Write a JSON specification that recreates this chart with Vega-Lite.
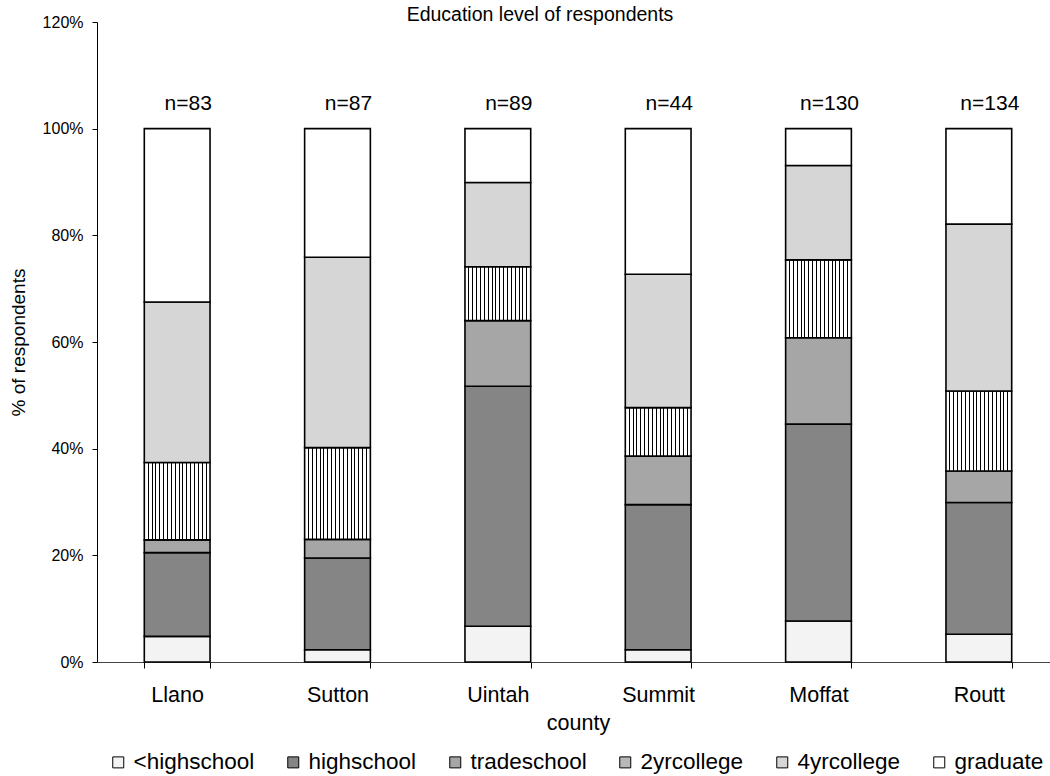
{
  "$schema": "https://vega.github.io/schema/vega-lite/v6.json",
  "width": 962,
  "height": 640,
  "autosize": "none",
  "padding": {"left": 97, "top": 22, "right": 0, "bottom": 114},
  "background": "white",
  "config": {
    "font": "Liberation Sans",
    "view": {"stroke": null},
    "axis": {"domainColor": "#000", "tickColor": "#000", "labelColor": "#000", "titleColor": "#000", "grid": false, "titleFontWeight": "normal"}
  },
  "title": {"text": "Education level of respondents", "fontSize": 19.5, "fontWeight": "normal", "font": "Liberation Sans", "anchor": "middle", "dx": -38, "dy": 21, "offset": 1, "baseline": "middle", "color": "#000"},
  "datasets": {
    "edu": [
      {"county": "Llano", "level": "<highschool", "k": 1, "pct": 0.048},
      {"county": "Llano", "level": "highschool", "k": 2, "pct": 0.157},
      {"county": "Llano", "level": "tradeschool", "k": 3, "pct": 0.024},
      {"county": "Llano", "level": "2yrcollege", "k": 4, "pct": 0.145},
      {"county": "Llano", "level": "4yrcollege", "k": 5, "pct": 0.301},
      {"county": "Llano", "level": "graduate", "k": 6, "pct": 0.325},
      {"county": "Sutton", "level": "<highschool", "k": 1, "pct": 0.023},
      {"county": "Sutton", "level": "highschool", "k": 2, "pct": 0.172},
      {"county": "Sutton", "level": "tradeschool", "k": 3, "pct": 0.035},
      {"county": "Sutton", "level": "2yrcollege", "k": 4, "pct": 0.172},
      {"county": "Sutton", "level": "4yrcollege", "k": 5, "pct": 0.357},
      {"county": "Sutton", "level": "graduate", "k": 6, "pct": 0.241},
      {"county": "Uintah", "level": "<highschool", "k": 1, "pct": 0.067},
      {"county": "Uintah", "level": "highschool", "k": 2, "pct": 0.450},
      {"county": "Uintah", "level": "tradeschool", "k": 3, "pct": 0.123},
      {"county": "Uintah", "level": "2yrcollege", "k": 4, "pct": 0.101},
      {"county": "Uintah", "level": "4yrcollege", "k": 5, "pct": 0.158},
      {"county": "Uintah", "level": "graduate", "k": 6, "pct": 0.101},
      {"county": "Summit", "level": "<highschool", "k": 1, "pct": 0.023},
      {"county": "Summit", "level": "highschool", "k": 2, "pct": 0.272},
      {"county": "Summit", "level": "tradeschool", "k": 3, "pct": 0.091},
      {"county": "Summit", "level": "2yrcollege", "k": 4, "pct": 0.091},
      {"county": "Summit", "level": "4yrcollege", "k": 5, "pct": 0.250},
      {"county": "Summit", "level": "graduate", "k": 6, "pct": 0.273},
      {"county": "Moffat", "level": "<highschool", "k": 1, "pct": 0.077},
      {"county": "Moffat", "level": "highschool", "k": 2, "pct": 0.369},
      {"county": "Moffat", "level": "tradeschool", "k": 3, "pct": 0.162},
      {"county": "Moffat", "level": "2yrcollege", "k": 4, "pct": 0.146},
      {"county": "Moffat", "level": "4yrcollege", "k": 5, "pct": 0.177},
      {"county": "Moffat", "level": "graduate", "k": 6, "pct": 0.069},
      {"county": "Routt", "level": "<highschool", "k": 1, "pct": 0.052},
      {"county": "Routt", "level": "highschool", "k": 2, "pct": 0.247},
      {"county": "Routt", "level": "tradeschool", "k": 3, "pct": 0.059},
      {"county": "Routt", "level": "2yrcollege", "k": 4, "pct": 0.150},
      {"county": "Routt", "level": "4yrcollege", "k": 5, "pct": 0.313},
      {"county": "Routt", "level": "graduate", "k": 6, "pct": 0.179}
    ],
    "ns": [
      {"county": "Llano", "label": "n=83"},
      {"county": "Sutton", "label": "n=87"},
      {"county": "Uintah", "label": "n=89"},
      {"county": "Summit", "label": "n=44"},
      {"county": "Moffat", "label": "n=130"},
      {"county": "Routt", "label": "n=134"}
    ]
  },
  "layer": [
    {
      "data": {"name": "edu"},
      "mark": {"type": "bar", "stroke": "#000", "strokeWidth": 1.6},
      "encoding": {
        "x": {
          "field": "county", "type": "nominal",
          "sort": ["Llano", "Sutton", "Uintah", "Summit", "Moffat", "Routt"],
          "scale": {"paddingInner": 0.59, "paddingOuter": 0.295},
          "axis": {"title": "county", "labelAngle": 0, "labelFontSize": 21.5, "titleFontSize": 21.5, "tickBand": "extent", "tickSize": 6, "labelPadding": 16, "titlePadding": 7, "domainColor": "#444", "tickColor": "#000"}
        },
        "y": {
          "field": "pct", "type": "quantitative", "stack": "zero",
          "scale": {"domain": [0, 1.2], "nice": false},
          "axis": {"title": "% of respondents", "format": ".0%", "values": [0, 0.2, 0.4, 0.6, 0.8, 1.0, 1.2], "labelFontSize": 16, "titleFontSize": 19, "tickSize": 5, "labelPadding": 9, "titlePadding": 14}
        },
        "order": {"field": "k", "type": "quantitative"},
        "color": {
          "condition": {
            "test": "datum.level === '2yrcollege'",
            "value": {
              "gradient": "linear", "x1": 0, "y1": 0, "x2": 1, "y2": 0,
              "stops": [
                {"offset": 0, "color": "#ffffff"},
                {"offset": 0.051, "color": "#ffffff"}, {"offset": 0.051, "color": "#000000"}, {"offset": 0.067, "color": "#000000"}, {"offset": 0.067, "color": "#ffffff"},
                {"offset": 0.110, "color": "#ffffff"}, {"offset": 0.110, "color": "#000000"}, {"offset": 0.126, "color": "#000000"}, {"offset": 0.126, "color": "#ffffff"},
                {"offset": 0.169, "color": "#ffffff"}, {"offset": 0.169, "color": "#000000"}, {"offset": 0.185, "color": "#000000"}, {"offset": 0.185, "color": "#ffffff"},
                {"offset": 0.227, "color": "#ffffff"}, {"offset": 0.227, "color": "#000000"}, {"offset": 0.243, "color": "#000000"}, {"offset": 0.243, "color": "#ffffff"},
                {"offset": 0.286, "color": "#ffffff"}, {"offset": 0.286, "color": "#000000"}, {"offset": 0.302, "color": "#000000"}, {"offset": 0.302, "color": "#ffffff"},
                {"offset": 0.345, "color": "#ffffff"}, {"offset": 0.345, "color": "#000000"}, {"offset": 0.361, "color": "#000000"}, {"offset": 0.361, "color": "#ffffff"},
                {"offset": 0.404, "color": "#ffffff"}, {"offset": 0.404, "color": "#000000"}, {"offset": 0.420, "color": "#000000"}, {"offset": 0.420, "color": "#ffffff"},
                {"offset": 0.463, "color": "#ffffff"}, {"offset": 0.463, "color": "#000000"}, {"offset": 0.479, "color": "#000000"}, {"offset": 0.479, "color": "#ffffff"},
                {"offset": 0.521, "color": "#ffffff"}, {"offset": 0.521, "color": "#000000"}, {"offset": 0.537, "color": "#000000"}, {"offset": 0.537, "color": "#ffffff"},
                {"offset": 0.580, "color": "#ffffff"}, {"offset": 0.580, "color": "#000000"}, {"offset": 0.596, "color": "#000000"}, {"offset": 0.596, "color": "#ffffff"},
                {"offset": 0.639, "color": "#ffffff"}, {"offset": 0.639, "color": "#000000"}, {"offset": 0.655, "color": "#000000"}, {"offset": 0.655, "color": "#ffffff"},
                {"offset": 0.698, "color": "#ffffff"}, {"offset": 0.698, "color": "#000000"}, {"offset": 0.714, "color": "#000000"}, {"offset": 0.714, "color": "#ffffff"},
                {"offset": 0.757, "color": "#ffffff"}, {"offset": 0.757, "color": "#000000"}, {"offset": 0.773, "color": "#000000"}, {"offset": 0.773, "color": "#ffffff"},
                {"offset": 0.815, "color": "#ffffff"}, {"offset": 0.815, "color": "#000000"}, {"offset": 0.831, "color": "#000000"}, {"offset": 0.831, "color": "#ffffff"},
                {"offset": 0.874, "color": "#ffffff"}, {"offset": 0.874, "color": "#000000"}, {"offset": 0.890, "color": "#000000"}, {"offset": 0.890, "color": "#ffffff"},
                {"offset": 0.933, "color": "#ffffff"}, {"offset": 0.933, "color": "#000000"}, {"offset": 0.949, "color": "#000000"}, {"offset": 0.949, "color": "#ffffff"},
                {"offset": 1, "color": "#ffffff"}
              ]
            }
          },
          "field": "level", "type": "nominal",
          "sort": ["<highschool", "highschool", "tradeschool", "2yrcollege", "4yrcollege", "graduate"],
          "scale": {
            "domain": ["<highschool", "highschool", "tradeschool", "2yrcollege", "4yrcollege", "graduate"],
            "range": ["#f3f3f3", "#858585", "#a6a6a6", "#b8b8b8", "#d6d6d6", "#ffffff"]
          },
          "legend": {
            "title": null, "orient": "none", "direction": "horizontal", "legendX": 10, "legendY": 729,
            "symbolType": "square", "symbolSize": 121, "symbolStrokeColor": "#000", "symbolStrokeWidth": 1, "symbolOpacity": 1,
            "labelFontSize": 22.5, "labelColor": "#000", "labelOffset": 4, "columnPadding": 27, "columns": 6, "labelLimit": 300
          }
        }
      }
    },
    {
      "data": {"name": "ns"},
      "mark": {"type": "text", "fontSize": 21, "dx": 11, "color": "#000", "baseline": "middle"},
      "encoding": {
        "x": {"field": "county", "type": "nominal", "sort": ["Llano", "Sutton", "Uintah", "Summit", "Moffat", "Routt"]},
        "y": {"datum": 1.047},
        "text": {"field": "label"}
      }
    }
  ]
}
